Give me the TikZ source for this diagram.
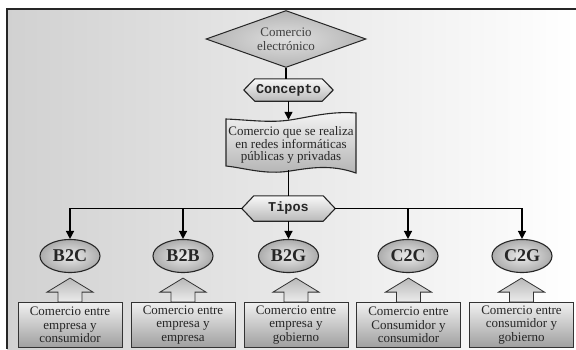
\documentclass[tikz,border=0pt]{standalone}
\usepackage{fontspec}
\setmainfont{Liberation Serif}
\newfontfamily\monof{Liberation Mono}
\usetikzlibrary{shapes.geometric,arrows.meta,backgrounds}
\begin{document}
\begin{tikzpicture}[x=1pt,y=-1pt,
  typ/.style={ellipse, draw=black!85, line width=1.1pt, inner color=gray!15, outer color=gray!65,
    minimum width=60pt, minimum height=33pt, inner sep=0pt,
    font=\fontsize{18}{18}\selectfont\bfseries, text=black!85},
  box/.style={rectangle, draw=black!80, line width=0.8pt, top color=gray!12, bottom color=gray!75,
    minimum width=104pt, minimum height=45pt, inner sep=0pt, align=center,
    font=\fontsize{13}{13.5}\selectfont, text=black!85},
  callout/.style={draw=black!80, line width=0.8pt, top color=gray!55, bottom color=gray!15},
  hexlbl/.style={rectangle, inner sep=0pt, font=\fontsize{13.5}{14}\selectfont\monof\bfseries, text=black!85},
  hexsh/.style={draw=black!85, line width=1.1pt, top color=gray!5, bottom color=gray!55},
  conn/.style={line width=1.3pt, black},
  arr/.style={conn, -{Triangle[length=8pt,width=8pt]}}]

\useasboundingbox (0,0) rectangle (576,349);

% nodes
\node[diamond, aspect=2.86, minimum width=160pt, minimum height=57pt, inner sep=0pt,
  draw=black!85, line width=1pt, inner color=gray!25, outer color=gray!58,
  align=center, font=\fontsize{13}{14}\selectfont, text=black!75] (ce) at (286,39) {Comercio\\electrónico};
\node[hexlbl, minimum width=89pt, minimum height=22pt] (concepto) at (288.5,90) {Concepto};
\node[rectangle, inner sep=0pt, minimum width=128pt, minimum height=50pt, align=center,
  font=\fontsize{13}{12.5}\selectfont, text=black!85] (doc) at (291,145) {Comercio que se realiza\\en redes informáticas\\públicas y privadas};
\node[hexlbl, minimum width=93pt, minimum height=25pt] (tipos) at (288.5,208.5) {Tipos};

\node[typ] (b2c) at (70,256) {B2C};
\node[typ] (b2b) at (183,256) {B2B};
\node[typ] (b2g) at (288.5,256) {B2G};
\node[typ] (c2c) at (408,256) {C2C};
\node[typ] (c2g) at (522,256) {C2G};

\node[box] (tb2c) at (70,325) {Comercio entre\\empresa y\\consumidor};
\node[box] (tb2b) at (183,325) {Comercio entre\\empresa y\\empresa};
\node[box] (tb2g) at (296,325) {Comercio entre\\empresa y\\gobierno};
\node[box] (tc2c) at (408.5,325) {Comercio entre\\Consumidor y\\consumidor};
\node[box] (tc2g) at (521.5,325) {Comercio entre\\consumidor y\\gobierno};

\begin{scope}[on background layer]
  \fill[white] (0,0) rectangle (576,349);
  \fill[left color=black!18, right color=white] (7,9) rectangle (576,349);
  \draw[line width=1.6pt, black!85] (576,9) -- (7,9) -- (7,349);
  % hexagons
  \draw[hexsh] (concepto.west) -- ([xshift=11pt]concepto.north west) -- ([xshift=-11pt]concepto.north east)
    -- (concepto.east) -- ([xshift=-11pt]concepto.south east) -- ([xshift=11pt]concepto.south west) -- cycle;
  \draw[hexsh] (tipos.west) -- ([xshift=12pt]tipos.north west) -- ([xshift=-12pt]tipos.north east)
    -- (tipos.east) -- ([xshift=-12pt]tipos.south east) -- ([xshift=12pt]tipos.south west) -- cycle;
  % document (waving flag) shape
  \draw[draw=black!85, line width=1.1pt, top color=gray!8, bottom color=gray!60]
    (226,119) .. controls (250,120) and (270,123) .. (290,120)
    .. controls (310,117) and (330,111) .. (356,113)
    -- (356,173)
    .. controls (330,164) and (310,168) .. (290,171)
    .. controls (265,175) and (245,168) .. (226,166) -- cycle;
\end{scope}

% callout arrows
\foreach \b in {tb2c,tb2b,tb2g,tc2c,tc2g}{
  \draw[callout] ([xshift=-12pt]\b.north) -- ++(0,-10) -- ++(-11,0) -- ++(23,-14)
    -- ++(23,14) -- ++(-11,0) -- ++(0,10) -- cycle;
}

% connectors
\draw[conn] (ce.south) -- (ce.south |- concepto.north);
\draw[arr] (concepto.south) -- (concepto.south |- doc.north);
\draw[conn] (tipos.north |- doc.south) -- (tipos.north);
\draw[arr] (tipos.west) -| (b2c.north);
\draw[arr] (tipos.west) -| (b2b.north);
\draw[arr] (tipos.south) -- (b2g.north);
\draw[arr] (tipos.east) -| (c2c.north);
\draw[arr] (tipos.east) -| (c2g.north);
\end{tikzpicture}
\end{document}
